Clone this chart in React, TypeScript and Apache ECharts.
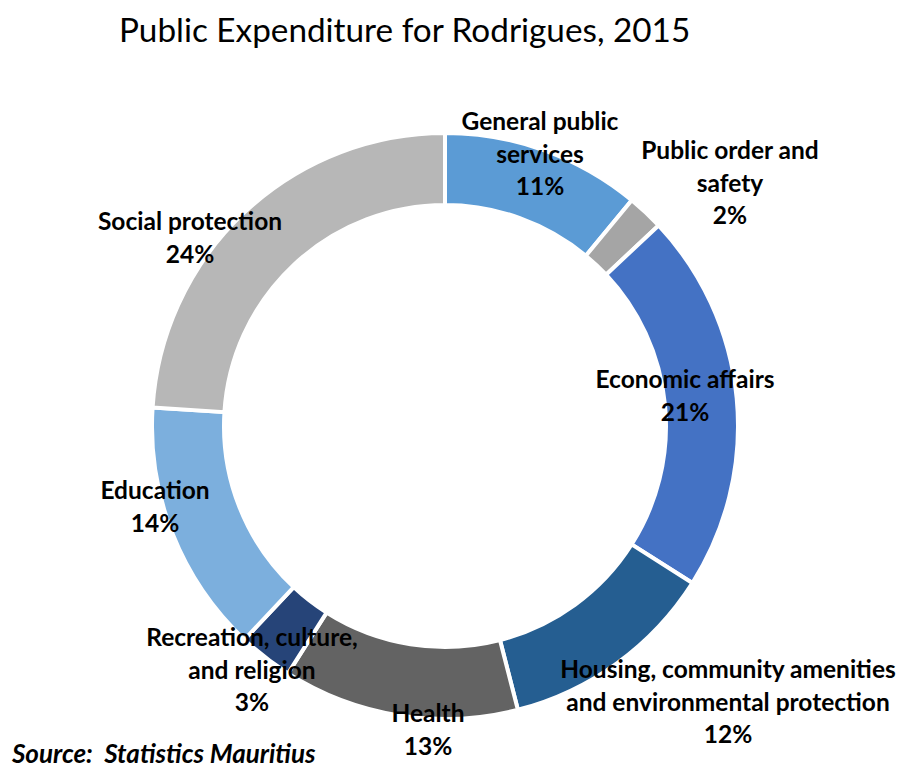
import React, { useEffect, useRef } from "react";
import * as echarts from "echarts";

const categories = [
  "General public\nservices",
  "Public order and\nsafety",
  "Economic affairs",
  "Housing, community amenities\nand environmental protection",
  "Health",
  "Recreation, culture,\nand religion",
  "Education",
  "Social protection",
];
const shares = [11, 2, 21, 12, 13, 3, 14, 24];
const colors = ["#5B9BD5", "#A5A5A5", "#4472C4", "#255E91", "#636363", "#264478", "#7CAFDD", "#B7B7B7"];
// label block centers (px)
const labelPos = [
  [540, 153],
  [730, 182],
  [685, 395],
  [728, 701],
  [428, 729],
  [252, 669],
  [155, 506],
  [190, 237],
];

const FONT = "Lato, 'Open Sans', sans-serif";

export default function App() {
  const ref = useRef<HTMLDivElement>(null);
  useEffect(() => {
    if (!ref.current) return;
    const chart = echarts.init(ref.current, undefined, { renderer: "svg" });
    chart.setOption({
      animation: false,
      backgroundColor: "#ffffff",
      title: {
        text: "Public Expenditure for Rodrigues, 2015",
        left: 114,
        top: 7,
        textStyle: { fontFamily: FONT, fontSize: 33.3, fontWeight: "normal", color: "#000" },
      },
      graphic: [
        {
          type: "text",
          left: 12,
          top: 740,
          style: {
            text: "Source:\u00a0 Statistics Mauritius",
            font: "italic bold 26px " + FONT,
            fill: "#000",
          },
        },
      ],
      series: [
        {
          type: "pie",
          center: [445, 426],
          radius: [221, 293],
          startAngle: 90,
          clockwise: true,
          avoidLabelOverlap: false,
          itemStyle: { borderColor: "#fff", borderWidth: 4 },
          label: {
            show: true,
            position: "outside",
            formatter: (p: any) => p.name + "\n" + p.value + "%",
            fontFamily: FONT,
            fontSize: 24.5,
            fontWeight: "bold",
            color: "#000",
            lineHeight: 32.5,
            align: "center",
          },
          labelLine: { show: false },
          labelLayout: (params: any) => {
            const pos = labelPos[params.dataIndex];
            return { x: pos[0], y: pos[1], align: "center", verticalAlign: "middle" };
          },
          emphasis: { disabled: true },
          data: categories.map((c, i) => ({ name: c, value: shares[i], itemStyle: { color: colors[i] } })),
        },
      ],
    });
    return () => chart.dispose();
  }, []);
  return <div ref={ref} style={{ position: "fixed", left: 0, top: 0, width: 905, height: 770 }} />;
}
